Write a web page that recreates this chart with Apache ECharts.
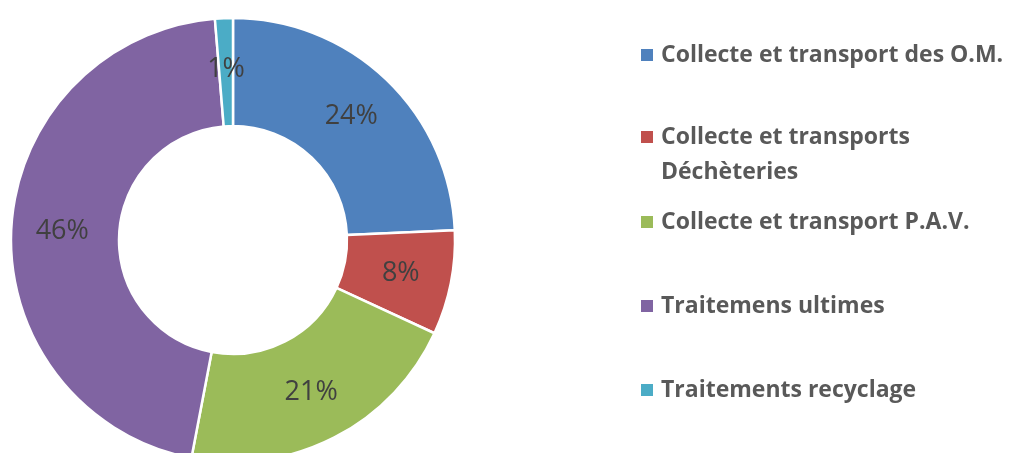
<!DOCTYPE html>
<html>
<head>
<meta charset="utf-8">
<script src="https://cdn.jsdelivr.net/npm/echarts@6/dist/echarts.min.js"></script>
<style>
  html, body { margin: 0; padding: 0; background: #fff; }
  #main { width: 1013px; height: 453px; }
</style>
</head>
<body>
<div id="main"></div>
<script>
// répartition des coûts (en %)
var categories = [ 'Collecte et transport des O.M.', 'Collecte et transports Déchèteries',
    'Collecte et transport P.A.V.', 'Traitemens ultimes', 'Traitements recyclage' ];
// une ligne vide en tête garde le carré de couleur sur la première ligne
var legendText = [ 'Collecte et transport des O.M.', '\nCollecte et transports\nDéchèteries',
    'Collecte et transport P.A.V.', 'Traitemens ultimes', 'Traitements recyclage' ];
var values = [ 24.3, 7.6, 21.1, 45.7, 1.3 ];
var colors = [ '#4F81BD', '#C0504D', '#9BBB59', '#8064A2', '#4BACC6' ];
// centre vertical de chaque entrée de légende (première ligne)
var legendRows = [ 55, 137, 222, 306, 390 ];

var myChart = echarts.init(document.getElementById('main'));

var lh = 35;
var legends = [];
for (var i = 0; i < categories.length; i++) {
    var lines = legendText[i].split('\n').length;
    legends.push({
        orient : 'vertical',
        left : 639,
        top : legendRows[i] - lines * lh / 2,
        padding : 0,
        itemWidth : 14,
        itemHeight : 14,
        icon : 'rect',
        selectedMode : false,
        data : [ categories[i] ],
        formatter : (function(txt) {
            return function() { return txt; };
        })(legendText[i]),
        textStyle : {
            fontFamily : 'Open Sans',
            fontWeight : 'bold',
            fontSize : 23,
            color : '#595959',
            lineHeight : lh,
            padding : [ 0, 0, 0, 2 ]
        }
    });
}

var option = {
    color : colors,
    animation : false,
    legend : legends,
    series : [ {
        name : 'Coûts',
        type : 'pie',
        center : [ 233, 240 ],
        radius : [ 114, 222 ],
        startAngle : 90,
        clockwise : true,
        itemStyle : {
            borderColor : '#fff',
            borderWidth : 2.5
        },
        label : {
            show : true,
            position : 'inside',
            fontFamily : 'Open Sans',
            fontSize : 27,
            color : '#404040',
            formatter : function(p) {
                return Math.round(p.percent) + '%';
            }
        },
        labelLine : { show : false },
        data : categories.map(function(c, i) {
            return { name : c, value : values[i] };
        })
    } ]
};
myChart.setOption(option);

window.onresize = function() {
    myChart.resize();
};
</script>
</body>
</html>
